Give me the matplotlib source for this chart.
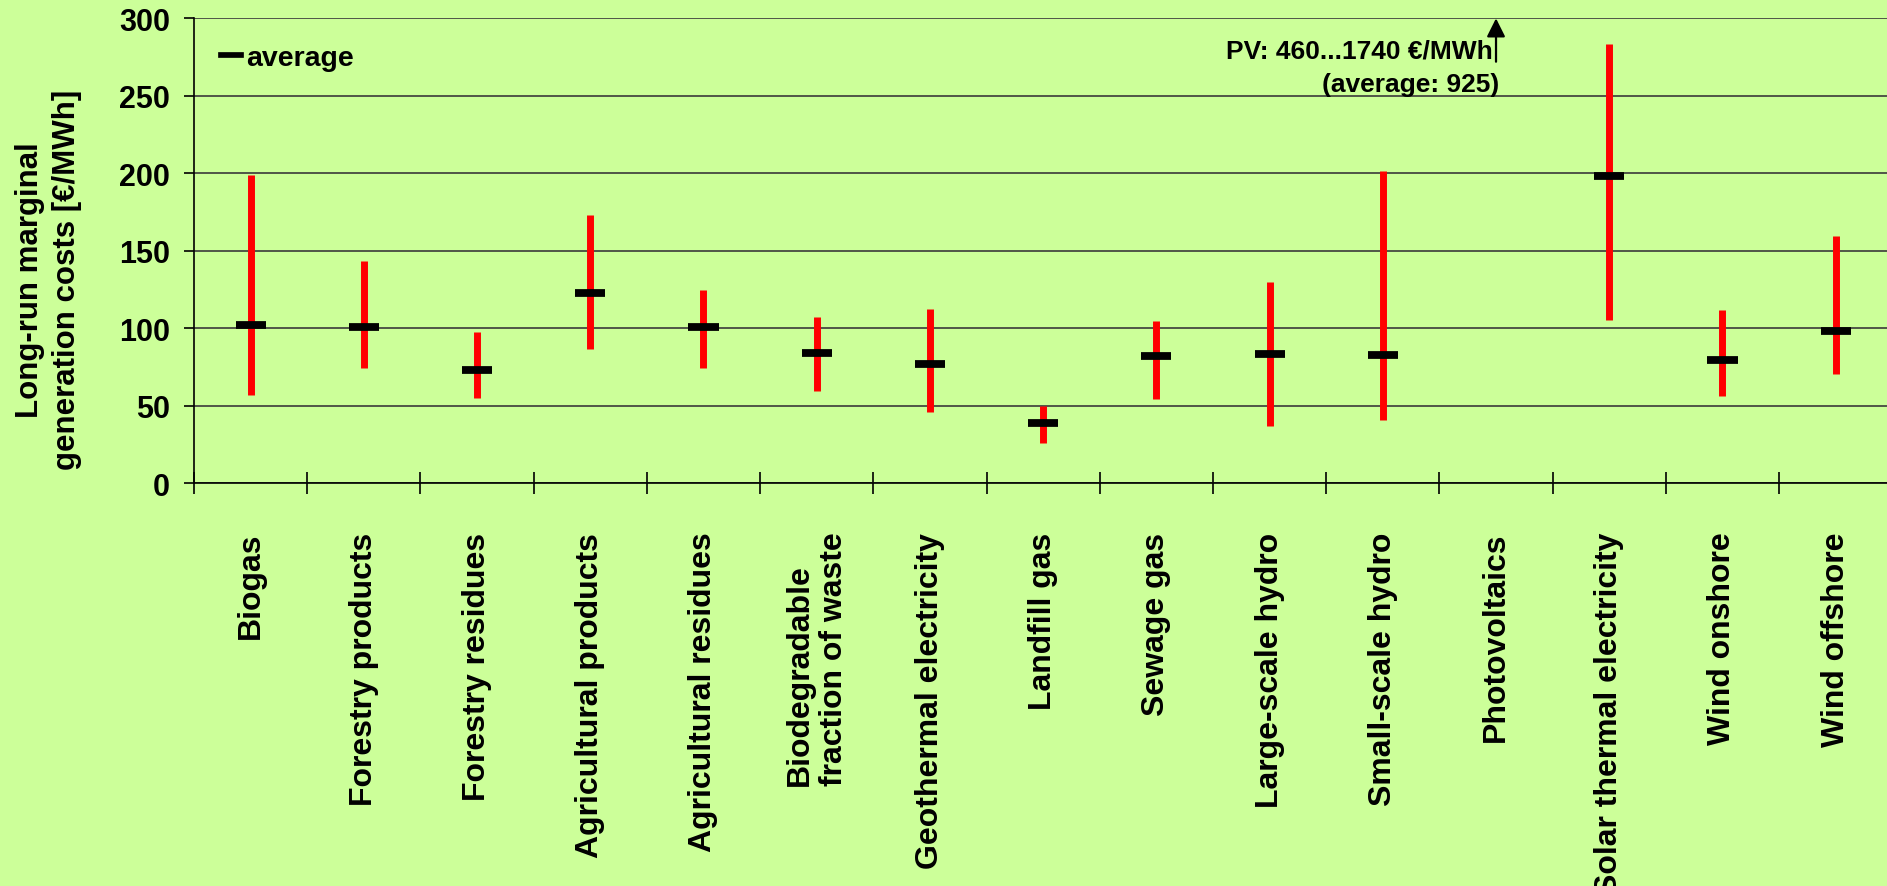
import matplotlib
matplotlib.use("Agg")
import matplotlib.pyplot as plt
from matplotlib.lines import Line2D
import numpy as np

plt.rcParams['font.family'] = ['Liberation Sans', 'DejaVu Sans']
plt.rcParams['font.weight'] = 'bold'

categories = ["Biogas", "Forestry products", "Forestry residues", "Agricultural products",
              "Agricultural residues", "Biodegradable\nfraction of waste", "Geothermal electricity",
              "Landfill gas", "Sewage gas", "Large-scale hydro", "Small-scale hydro",
              "Photovoltaics", "Solar thermal electricity", "Wind onshore", "Wind offshore"]
# PV is off the scale (460...1740, average 925) -> no bar drawn
low = [56.6, 74.2, 54.9, 86.7, 74.2, 59.4, 45.8, 26.0, 54.4, 36.6, 40.9, np.nan, 105.4, 56.2, 70.2]
high = [198.8, 143.5, 97.3, 173.2, 124.6, 107.2, 112.1, 49.5, 104.4, 130.0, 201.6, np.nan, 283.6, 111.5, 159.7]
avg = [102.2, 100.9, 73.0, 122.5, 100.5, 83.9, 77.0, 38.5, 82.0, 83.1, 82.4, np.nan, 198.4, 79.4, 97.9]
yticks = [0, 50, 100, 150, 200, 250, 300]

bg = '#CCFF99'
fig = plt.figure(figsize=(18.87, 8.87), dpi=100, facecolor=bg)
ax = fig.add_axes([0.1028, 0.4543, 0.9, 0.5239], facecolor=bg)

x = np.arange(len(categories))
ax.vlines(x, low, high, colors='#FF0000', lw=5, zorder=3)
ax.hlines(avg, x - 0.133, x + 0.133, colors='black', lw=5.6, zorder=4)

ax.set_xlim(-0.5, len(categories) - 0.5)
ax.set_ylim(0, 300)
ax.set_yticks(yticks)
ax.grid(axis='y', color='#3a3a3a', lw=1.2, zorder=1)
ax.set_axisbelow(True)

for s in ['top', 'right']:
    ax.spines[s].set_visible(False)
for s in ['left', 'bottom']:
    ax.spines[s].set_color('black')
    ax.spines[s].set_linewidth(1.2)

ax.tick_params(axis='y', direction='out', length=7.2, width=1.2, pad=10, labelsize=22)
ax.set_xticks(x)
ax.set_xticklabels(categories, rotation=90, va='top', ha='center', fontsize=23)
ax.tick_params(axis='x', which='major', length=0, pad=35)
ax.set_xticks(np.arange(-0.5, len(categories)), minor=True)
ax.tick_params(axis='x', which='minor', direction='inout', length=16, width=1.2)
for lab in ax.get_xticklabels():
    if '\n' in lab.get_text():
        lab.set_multialignment('left')
        lab.set_linespacing(1.2)

fig.text(0.0257, 1 - 280 / 887, "Long-run marginal\ngeneration costs [€/MWh]", rotation=90,
         ha='center', va='center', multialignment='center', fontsize=22.5, linespacing=1.3)

# legend for the average marker
h = Line2D([], [], color='black', lw=4.1, label='average')
ax.legend(handles=[h], loc='center left', bbox_to_anchor=(0.0159, 0.914), frameon=False,
          borderpad=0, borderaxespad=0, handlelength=0.7, handletextpad=0.2,
          prop={'size': 20.5, 'weight': 'bold'})

# PV note with arrow pointing off the scale
pv = categories.index("Photovoltaics")
ax.annotate('', xy=(pv, 300), xytext=(pv, 272), annotation_clip=False,
            arrowprops=dict(arrowstyle='-|>', lw=1.6, color='black', mutation_scale=28,
                            shrinkA=0, shrinkB=0))
ax.text(pv - 0.025, 279, "PV: 460...1740 €/MWh", ha='right', va='center', fontsize=19)
ax.text(pv + 0.03, 257.6, "(average: 925)", ha='right', va='center', fontsize=19)

fig.savefig("out.png", dpi=100, facecolor=bg)
